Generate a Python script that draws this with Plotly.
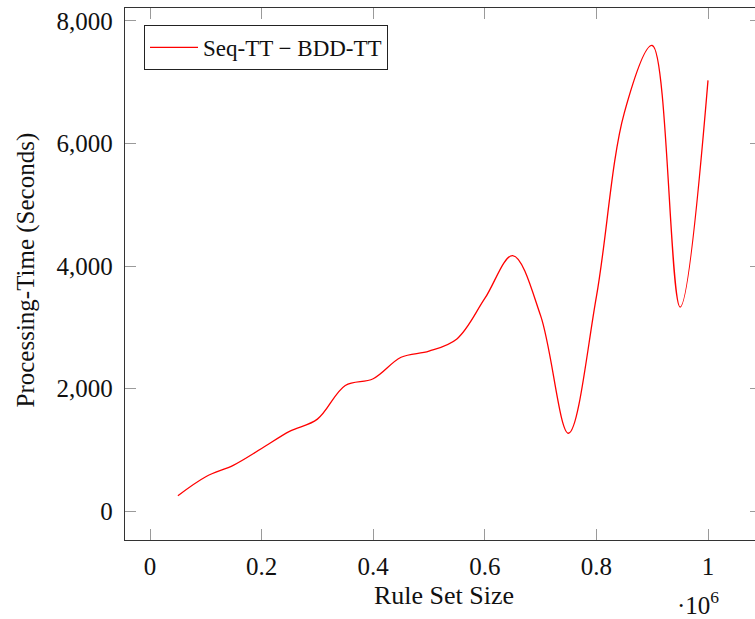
import plotly.graph_objects as go

# Rule set sizes and measured processing-time difference (Seq-TT minus BDD-TT)
rule_set_size = [50000, 100000, 150000, 200000, 250000, 300000, 350000, 400000,
                 450000, 500000, 550000, 600000, 650000, 700000, 750000, 800000,
                 850000, 900000, 950000, 1000000]
time_diff = [250, 560, 750, 1020, 1300, 1500, 2050, 2160,
             2510, 2610, 2810, 3470, 4170, 3190, 1270, 3500,
             6500, 7600, 3330, 7030]

x_tick_vals = [0, 200000, 400000, 600000, 800000, 1000000]
x_tick_text = ["0", "0.2", "0.4", "0.6", "0.8", "1"]
y_tick_vals = [0, 2000, 4000, 6000, 8000]
y_tick_text = ["0", "2,000", "4,000", "6,000", "8,000"]

FONT = "'Liberation Serif', 'Times New Roman', Times, serif"
W, H = 755, 619
ML, MR, MT, MB = 125, 0, 8, 79
PW, PH = W - ML - MR, H - MT - MB

fig = go.Figure()
fig.add_trace(go.Scatter(
    x=rule_set_size, y=time_diff, mode="lines",
    line=dict(color="#ff0000", width=1.3, shape="spline", smoothing=1.0),
    name="Seq-TT \u2212 BDD-TT",
))
# invisible trace carrying the right-hand tick marks
fig.add_trace(go.Scatter(x=[None], y=[None], yaxis="y2", showlegend=False,
                         hoverinfo="skip"))

axis_common = dict(
    showgrid=False, zeroline=False,
    ticks="inside", ticklen=11, tickwidth=1, tickcolor="#9a9a9a",
    tickfont=dict(family=FONT, size=25, color="#111"),
)

fig.update_layout(
    width=W, height=H,
    margin=dict(l=ML, r=MR, t=MT, b=MB),
    paper_bgcolor="white", plot_bgcolor="white",
    font=dict(family=FONT, size=25, color="#111"),
    xaxis=dict(
        range=[-44803, 1084229],
        tickmode="array", tickvals=x_tick_vals, ticktext=x_tick_text,
        showline=True, linecolor="#333", linewidth=1.3, mirror="ticks",
        ticklabelstandoff=4,
        **axis_common,
    ),
    yaxis=dict(
        range=[-473, 8212],
        tickmode="array", tickvals=y_tick_vals, ticktext=y_tick_text,
        showline=True, linecolor="#333", linewidth=1.3, mirror=False,
        ticklabelstandoff=6,
        **axis_common,
    ),
    yaxis2=dict(
        overlaying="y", side="right", matches="y",
        showgrid=False, zeroline=False, showline=False, showticklabels=False,
        tickmode="array", tickvals=y_tick_vals,
        ticks="inside", ticklen=5, tickwidth=1, tickcolor="#9a9a9a",
    ),
    legend=dict(
        x=(144 - ML) / PW, y=(MT + PH - 25) / PH,
        xanchor="left", yanchor="top",
        bgcolor="white", bordercolor="#222", borderwidth=1,
        itemwidth=48,
        font=dict(family=FONT, size=23, color="#111"),
    ),
    showlegend=True,
)

# axis titles and the x scale factor
fig.add_annotation(text="Rule Set Size", xref="paper", yref="paper",
                   x=(443.5 - ML) / PW, y=(540 - 596) / PH,
                   xanchor="center", yanchor="middle", showarrow=False,
                   font=dict(family=FONT, size=26, color="#111"))
fig.add_annotation(text="Processing-Time (Seconds)", xref="paper", yref="paper",
                   x=(25 - ML) / PW, y=(540 - 270.5) / PH, textangle=-90,
                   xanchor="center", yanchor="middle", showarrow=False,
                   font=dict(family=FONT, size=25, color="#111"))
fig.add_annotation(text="\u00b710<sup>6</sup>", xref="paper", yref="paper",
                   x=(698 - ML) / PW, y=(540 - 603) / PH,
                   xanchor="center", yanchor="middle", showarrow=False,
                   font=dict(family=FONT, size=25, color="#111"))

fig.write_html("out.html")
